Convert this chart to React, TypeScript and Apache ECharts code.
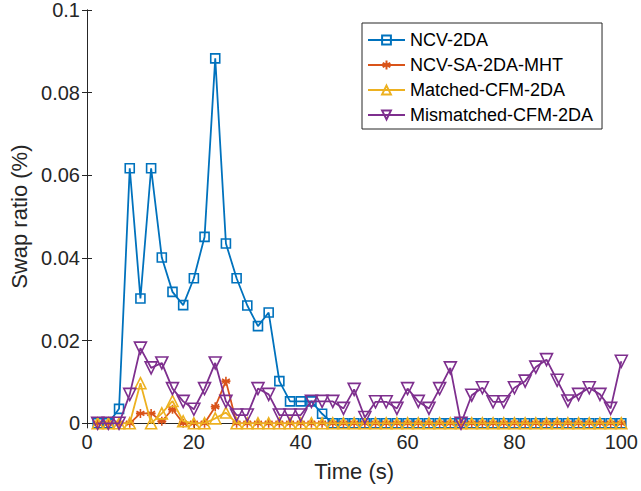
import React, { useEffect, useRef } from 'react';
import * as echarts from 'echarts';

const timeS = [2,4,6,8,10,12,14,16,18,20,22,24,26,28,30,32,34,36,38,40,42,44,46,48,50,52,54,56,58,60,62,64,66,68,70,72,74,76,78,80,82,84,86,88,90,92,94,96,98,100];

const ncv2da = [0,0,0.0035,0.0617,0.0302,0.0617,0.0401,0.0318,0.0286,0.0351,0.0451,0.0883,0.0435,0.0351,0.0285,0.0235,0.0268,0.0102,0.0053,0.0053,0.0053,0.0023,
  0,0,0,0,0,0,0,0,0,0,0,0,0,0,0,0,0,0,0,0,0,0,0,0,0,0,0,0];

const ncvSa2daMht = [0,0,0,0,0.0024,0.0024,0.0005,0.0034,0,0,0,0.004,0.0102,
  0,0,0,0,0,0,0,0,0,0,0,0,0,0,0,0,0,0,0,0,0,0,0,0,0,0,0,0,0,0,0,0,0,0,0,0,0];

const matchedCfm2da = [0,0,0,0,0.0097,0,0.0024,0.0054,0.0005,0,0,0.0012,0.0026,
  0,0,0,0,0,0,0,0,0,0,0,0,0,0,0,0,0,0,0,0,0,0,0,0,0,0,0,0,0,0,0,0,0,0,0,0,0];

const mismatchedCfm2da = [0,0,0,0.007,0.0182,0.0134,0.0146,0.0084,0.0053,0.0034,0.0084,0.0146,0.0053,0.002,0.002,0.0084,0.007,0.002,0.002,0.002,
  0.0053,0.0053,0.0053,0.0036,0.0082,0.0014,0.0052,0.0052,0.0036,0.0084,0.0053,0.0036,0.0084,0.0134,0,0.0068,0.0086,0.0052,0.0052,0.0086,
  0.0102,0.0136,0.0154,0.0104,0.0054,0.007,0.0086,0.007,0.0036,0.015];

const seriesNames = ['NCV-2DA', 'NCV-SA-2DA-MHT', 'Matched-CFM-2DA', 'Mismatched-CFM-2DA'];
const seriesColors = ['#0072BD', '#D95319', '#EDB120', '#7E2F8E'];

const FONT = '"Liberation Sans", Arial, Helvetica, sans-serif';
const AX = '#262626';

export default function App() {
  const ref = useRef<HTMLDivElement>(null);
  useEffect(() => {
    if (!ref.current) return;
    const chart = echarts.init(ref.current, undefined, { renderer: 'svg' });
    const values = [ncv2da, ncvSa2daMht, matchedCfm2da, mismatchedCfm2da];
    const symbols = [
      'rect',
      'path://M0,-10L0,10M-8.66,-5L8.66,5M-8.66,5L8.66,-5M-10,0L10,0',
      'triangle',
      'triangle',
    ];
    const sizes = [9, 9, 11, 12];
    const rot = [0, 0, 0, 180];
    const series = values.map((vals, k) => ({
      type: 'line',
      name: seriesNames[k],
      data: vals.map((v, i) => [timeS[i], v]),
      symbol: symbols[k],
      symbolSize: sizes[k],
      symbolRotate: rot[k],
      showAllSymbol: true,
      color: seriesColors[k],
      lineStyle: { color: seriesColors[k], width: 1.8 },
      itemStyle: { color: 'rgba(0,0,0,0)', borderColor: seriesColors[k], borderWidth: 1.6 },
      z: 2 + k,
    }));
    const tickCommon = { inside: true, length: 5, lineStyle: { color: AX, width: 1 } };
    chart.setOption({
      animation: false,
      textStyle: { fontFamily: FONT },
      grid: { left: 87, right: 18.5, top: 7, bottom: 67.7, containLabel: false, show: false },
      legend: {
        orient: 'vertical',
        left: 362,
        top: 23,
        data: seriesNames,
        itemWidth: 37,
        itemHeight: 11,
        itemGap: 7,
        padding: [8, 9, 5, 5],
        borderColor: AX,
        borderWidth: 1,
        backgroundColor: '#fff',
        textStyle: { fontSize: 18, color: '#000', fontFamily: FONT, lineHeight: 18 },
      },
      xAxis: [
        {
          type: 'value', min: 0, max: 100, interval: 20,
          name: 'Time (s)', nameLocation: 'middle', nameGap: 37,
          nameTextStyle: { fontSize: 22, color: AX, fontFamily: FONT },
          axisLine: { show: true, lineStyle: { color: AX, width: 1 } },
          axisTick: tickCommon,
          axisLabel: { fontSize: 20, color: AX, margin: 9, fontFamily: FONT },
          splitLine: { show: false },
        },
        {
          type: 'value', min: 0, max: 100, interval: 20, position: 'top',
          axisLine: { show: true, lineStyle: { color: AX, width: 1 } },
          axisTick: tickCommon,
          axisLabel: { show: false },
          splitLine: { show: false },
        },
      ],
      yAxis: [
        {
          type: 'value', min: 0, max: 0.1, interval: 0.02,
          name: 'Swap ratio (%)', nameLocation: 'middle', nameGap: 53,
          nameTextStyle: { fontSize: 22, color: AX, fontFamily: FONT },
          axisLine: { show: true, lineStyle: { color: AX, width: 1 } },
          axisTick: tickCommon,
          axisLabel: { fontSize: 20, color: AX, margin: 7, fontFamily: FONT, formatter: (v: number) => String(+v.toFixed(2)) },
          splitLine: { show: false },
        },
        {
          type: 'value', min: 0, max: 0.1, interval: 0.02, position: 'right',
          axisLine: { show: true, lineStyle: { color: AX, width: 1 } },
          axisTick: tickCommon,
          axisLabel: { show: false },
          splitLine: { show: false },
        },
      ],
      series,
    });
    return () => chart.dispose();
  }, []);
  return <div ref={ref} style={{ position: 'fixed', left: 0, top: 0, width: 641, height: 491, background: '#fff' }} />;
}
